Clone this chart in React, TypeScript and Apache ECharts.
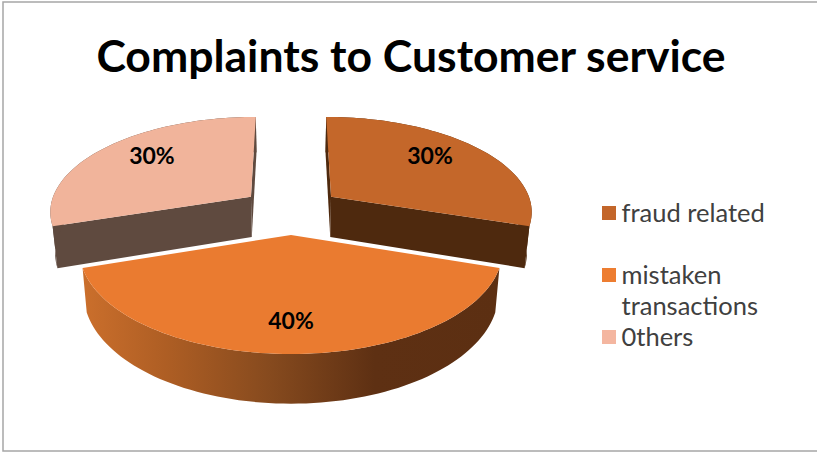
import React, { useEffect, useRef } from "react";
import * as echarts from "echarts";

// Chart content
const chartTitle = "Complaints to Customer service";
const categories = ["fraud related", "mistaken transactions", "Others"];
const legendLines = [["fraud related"], ["mistaken", "transactions"], ["0thers"]];
const shares = [30, 40, 30];

// Slice appearance
const topColors = ["#C4672A", "#EA7B30", "#F1B49B"];
const legendColors = ["#C3662A", "#ED7D31", "#F4B6A0"];
const wallColors = ["#4E290E", "", "#5F4A3F"];

// Projection of the tilted, exploded disc onto the screen
const CX = 291;
const CY = 210.5;
const RX = 202;
const RY = 94.7;
const PERSPECTIVE = 0.14;
const EXPLODE = 0.25;
const DEPTH = 41;
const BASE_SHRINK = 0.98;

const project = (u: number, v: number): number[] => {
  const w = 1 - PERSPECTIVE * v;
  return [CX + (RX * u) / w, CY + (RY * v) / w, w];
};
const extrude = (p: number[]): number[] => [CX + (p[0] - CX) * BASE_SHRINK, p[1] + DEPTH / p[2]];

const orangeWallFill = () =>
  new echarts.graphic.LinearGradient(0, 0, 1, 0, [
    { offset: 0, color: "#CB6F2C" },
    { offset: 0.2, color: "#AE5E24" },
    { offset: 0.45, color: "#864A1E" },
    { offset: 0.7, color: "#5E3013" },
    { offset: 1, color: "#5C2F12" },
  ]);

const renderSlice = (params: any, api: any) => {
  const index = params.dataIndex;
  const value = api.value(0) as number;
  const before = api.value(1) as number;
  const start = (before / 100) * Math.PI * 2;
  const end = ((before + value) / 100) * Math.PI * 2;
  const mid = (start + end) / 2;
  const ox = Math.sin(mid) * EXPLODE;
  const oy = -Math.cos(mid) * EXPLODE;

  const apex = project(ox, oy);
  const arc: number[][] = [];
  const steps = Math.ceil(value * 2);
  for (let i = 0; i <= steps; i++) {
    const t = start + ((end - start) * i) / steps;
    arc.push(project(ox + Math.sin(t), oy - Math.cos(t)));
  }
  const xy = (p: number[]) => [p[0], p[1]];
  const wallFill = wallColors[index] || orangeWallFill();
  const wall = (points: number[][]) => ({
    type: "polygon",
    shape: { points },
    style: { fill: wallFill, stroke: null },
    silent: true,
  });

  const first = arc[0];
  const last = arc[arc.length - 1];
  const children: any[] = [];
  if (wallColors[index]) {
    children.push(wall([xy(apex), xy(first), extrude(first), extrude(apex)]));
    children.push(wall([xy(apex), xy(last), extrude(last), extrude(apex)]));
  }
  children.push(wall([...arc.map(xy), ...arc.slice().reverse().map(extrude)]));
  children.push({
    type: "polygon",
    shape: { points: [xy(apex), ...arc.map(xy)] },
    style: { fill: topColors[index], stroke: null },
    silent: true,
  });

  // Percentage sits on the top face, along the slice's bisector
  const isBackSlice = oy < 0;
  const labelRadius = isBackSlice ? 0.665 : 0.745;
  const lift = isBackSlice ? 8 : 0;
  const labelAt = project(ox + Math.sin(mid) * labelRadius, oy - Math.cos(mid) * labelRadius);
  children.push({
    type: "text",
    silent: true,
    style: {
      x: labelAt[0],
      y: labelAt[1] - lift,
      text: `${value}%`,
      fill: "#000000",
      font: "bold 23px Lato",
      align: "center",
      verticalAlign: "middle",
    },
  });
  return { type: "group", children };
};

const cumulative = shares.map((_, i) => shares.slice(0, i).reduce((a, b) => a + b, 0));
const paintOrder = [0, 2, 1];

const legendGraphic = () => {
  const rowY = [213, 275, 337];
  const elements: any[] = [];
  legendLines.forEach((lines, i) => {
    elements.push({
      type: "rect",
      shape: { x: 602, y: rowY[i] - 7, width: 14, height: 14 },
      style: { fill: legendColors[i] },
      silent: true,
    });
    lines.forEach((line, j) => {
      elements.push({
        type: "text",
        silent: true,
        style: {
          x: 621.5,
          y: rowY[i] - 1 + j * 31,
          text: line,
          fill: "#404040",
          font: "25.5px Lato",
          verticalAlign: "middle",
        },
      });
    });
  });
  return elements;
};

export default function App() {
  const ref = useRef<HTMLDivElement>(null);
  useEffect(() => {
    document.body.style.margin = "0";
    const chart = echarts.init(ref.current!, undefined, { renderer: "svg" });
    chart.setOption({
      animation: false,
      backgroundColor: "#ffffff",
      title: {
        text: chartTitle,
        left: 406,
        top: 27,
        textAlign: "center",
        textStyle: { fontFamily: "Lato", fontWeight: "bold", fontSize: 44.5, color: "#000000" },
      },
      graphic: [
        {
          type: "polyline",
          silent: true,
          shape: { points: [[817, 2], [3, 2], [3, 451], [817, 451]] },
          style: { stroke: "#A6A6A6", lineWidth: 1.5, fill: null },
        },
        ...legendGraphic(),
      ],
      series: paintOrder.map((i) => ({
        type: "custom",
        name: categories[i],
        coordinateSystem: "none",
        silent: true,
        renderItem: (params: any, api: any) => renderSlice({ ...params, dataIndex: i }, api),
        data: [[shares[i], cumulative[i]]],
      })),
    });
    return () => chart.dispose();
  }, []);
  return <div ref={ref} style={{ position: "fixed", left: 0, top: 0, width: 817, height: 452 }} />;
}
